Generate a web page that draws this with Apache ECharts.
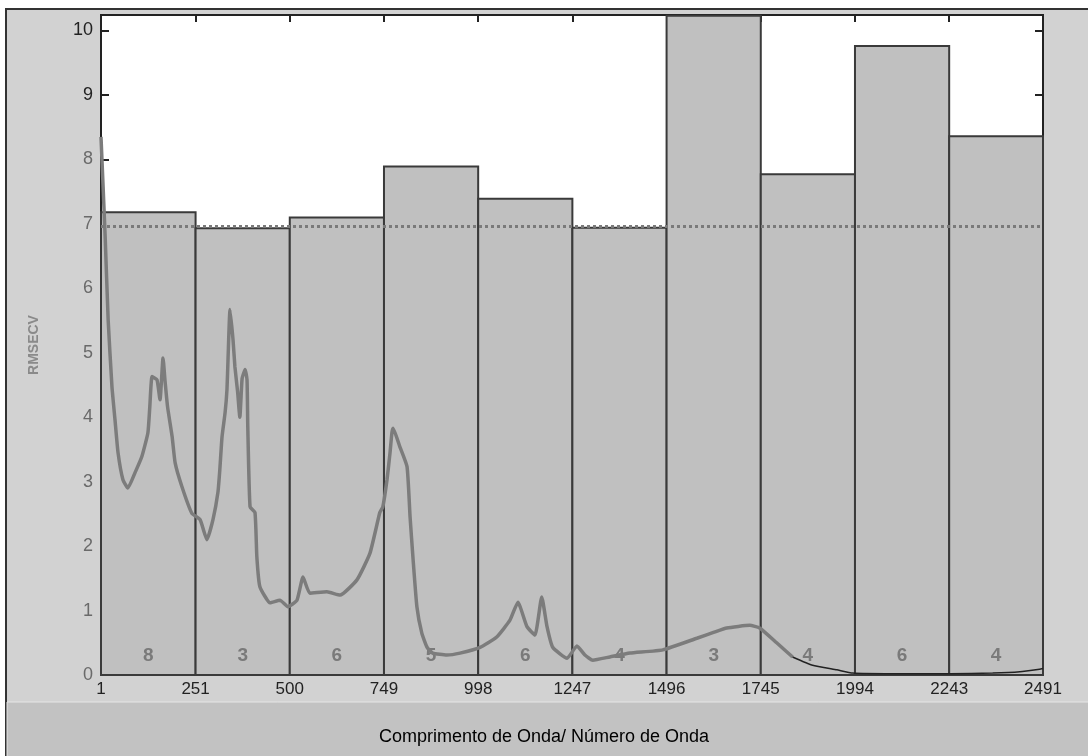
<!DOCTYPE html>
<html>
<head>
<meta charset="utf-8">
<script src="https://cdn.jsdelivr.net/npm/echarts@6/dist/echarts.min.js"></script>
<style>html,body{margin:0;padding:0;background:#fff;}#c{width:1088px;height:756px;}</style>
</head>
<body>
<div id="c"></div>
<script>
// Interval boundaries (variable ranges) and tick labels
const xTicks = [1, 251, 500, 749, 998, 1247, 1496, 1745, 1994, 2243, 2491];
// RMSECV per interval
const intervalRmsecv = [7.18, 6.93, 7.10, 7.89, 7.39, 6.94, 10.23, 7.77, 9.76, 8.36];
// Number of latent variables per interval
const intervalLV = ['8', '3', '6', '5', '6', '4', '3', '4', '6', '4'];
// Global model RMSECV (dotted line)
const globalRmsecv = 6.96;
// Mean spectrum (scaled)
const spectrumX = [1, 12, 20, 30, 38, 46, 59, 72, 91, 109, 125, 130, 136, 149, 157, 165, 170, 177, 189, 197, 215, 241, 263, 281, 297, 310, 315, 321, 329, 334, 337, 342, 350, 355, 362, 368, 374, 382, 387, 389, 395, 408, 413, 421, 448, 474, 495, 519, 535, 553, 598, 633, 678, 712, 738, 746, 757, 765, 770, 773, 791, 810, 818, 826, 836, 849, 863, 878, 915, 950, 1003, 1047, 1082, 1103, 1127, 1148, 1166, 1180, 1195, 1233, 1259, 1280, 1301, 1346, 1399, 1486, 1576, 1620, 1655, 1716, 1742, 1787, 1829, 1882, 1946, 1988, 2094, 2245, 2358, 2430, 2482, 2491];
const spectrumY = [8.35, 6.8, 5.5, 4.47, 3.96, 3.45, 3.03, 2.9, 3.14, 3.39, 3.76, 4.16, 4.63, 4.58, 4.27, 4.92, 4.58, 4.16, 3.70, 3.29, 2.92, 2.51, 2.41, 2.10, 2.41, 2.83, 3.18, 3.70, 4.07, 4.43, 4.94, 5.67, 5.2, 4.78, 4.4, 4.0, 4.6, 4.74, 4.58, 3.85, 2.61, 2.52, 1.83, 1.37, 1.12, 1.16, 1.06, 1.16, 1.52, 1.27, 1.29, 1.24, 1.48, 1.89, 2.52, 2.61, 3.03, 3.45, 3.76, 3.83, 3.54, 3.23, 2.45, 1.79, 1.06, 0.65, 0.43, 0.34, 0.31, 0.34, 0.43, 0.59, 0.85, 1.13, 0.75, 0.62, 1.21, 0.75, 0.43, 0.26, 0.45, 0.31, 0.23, 0.28, 0.34, 0.39, 0.57, 0.66, 0.73, 0.77, 0.73, 0.5, 0.28, 0.15, 0.08, 0.03, 0.02, 0.02, 0.03, 0.05, 0.09, 0.1];
const yTicks = [0, 1, 2, 3, 4, 5, 6, 7, 8, 9, 10];

const barData = intervalRmsecv.map((v, i) => [xTicks[i], xTicks[i + 1], v, intervalLV[i]]);
const splitIdx = spectrumX.indexOf(1829);
const specThick = spectrumX.slice(0, splitIdx + 1).map((x, i) => [x, spectrumY[i]]);
const specThin = spectrumX.slice(splitIdx).map((x, i) => [x, spectrumY[i + splitIdx]]);

const chart = echarts.init(document.getElementById('c'), null, {renderer: 'canvas'});
const font = '"Liberation Sans", Arial, sans-serif';
const yMax = 10.24;

chart.setOption({
  animation: false,
  backgroundColor: '#ffffff',
  graphic: [
    {type: 'rect', z: -100, silent: true, shape: {x: 6, y: 9, width: 1090, height: 760}, style: {fill: '#d2d2d2', stroke: '#333', lineWidth: 2}},
    {type: 'rect', z: -99, silent: true, shape: {x: 7, y: 702, width: 1090, height: 60}, style: {fill: '#c2c2c2', stroke: '#e6e6e6', lineWidth: 1}},
    {type: 'text', z: 100, silent: true, x: 544, y: 737, style: {text: 'Comprimento de Onda/ Número de Onda', fontSize: 18, fontFamily: font, fill: '#000', align: 'center', verticalAlign: 'middle'}}
  ],
  grid: {left: 101, right: 45, top: 15, bottom: 81, show: true, backgroundColor: '#ffffff', borderColor: '#222', borderWidth: 2},
  xAxis: [{
    type: 'value', min: 1, max: 2491, position: 'bottom',
    axisLine: {show: true, onZero: false, lineStyle: {color: '#222', width: 2}},
    axisTick: {show: true, inside: true, length: 7, customValues: xTicks, lineStyle: {color: '#222', width: 2}},
    axisLabel: {customValues: xTicks, color: '#222', fontSize: 17, fontFamily: font, margin: 6,
      formatter: function (v) { return String(v); }},
    splitLine: {show: false}
  }, {
    type: 'value', min: 1, max: 2491, position: 'top',
    axisLine: {show: true, onZero: false, lineStyle: {color: '#222', width: 2}},
    axisTick: {show: true, inside: true, length: 7, customValues: xTicks, lineStyle: {color: '#222', width: 2}},
    axisLabel: {show: false},
    splitLine: {show: false}
  }],
  yAxis: [{
    type: 'value', min: 0, max: yMax, position: 'left',
    axisLine: {show: true, onZero: false, lineStyle: {color: '#222', width: 2}},
    axisTick: {show: true, inside: true, length: 8, customValues: yTicks, lineStyle: {color: '#222', width: 2}},
    axisLabel: {customValues: yTicks, fontSize: 18, fontFamily: font, margin: 8,
      color: function (v) { return (v >= 9 || v === 0) ? '#222' : '#6a6a6a'; }},
    splitLine: {show: false},
    name: 'RMSECV', nameLocation: 'middle', nameGap: 60, nameRotate: 90,
    nameTextStyle: {color: '#8a8a8a', fontSize: 14, fontFamily: font, fontWeight: 'bold'}
  }, {
    type: 'value', min: 0, max: yMax, position: 'right',
    axisLine: {show: true, onZero: false, lineStyle: {color: '#222', width: 2}},
    axisTick: {show: true, inside: true, length: 8, customValues: yTicks, lineStyle: {color: '#222', width: 2}},
    axisLabel: {show: false},
    splitLine: {show: false}
  }],
  series: [{
    type: 'custom',
    xAxisIndex: 0, yAxisIndex: 0,
    data: barData,
    renderItem: function (params, api) {
      const p0 = api.coord([api.value(0), 0]);
      const p1 = api.coord([api.value(1), api.value(2)]);
      const mid = api.coord([(api.value(0) + api.value(1)) / 2, 0.3]);
      return {
        type: 'group',
        children: [{
          type: 'rect',
          shape: {x: p0[0], y: p1[1], width: p1[0] - p0[0], height: p0[1] - p1[1]},
          style: {fill: '#c0c0c0', stroke: '#3a3a3a', lineWidth: 2}
        }, {
          type: 'text',
          x: mid[0], y: mid[1],
          style: {text: String(barData[params.dataIndex][3]), fill: '#7a7a7a', fontSize: 19, fontWeight: 'bold', fontFamily: font, align: 'center', verticalAlign: 'middle'}
        }]
      };
    },
    markLine: {
      silent: true, symbol: 'none', label: {show: false},
      lineStyle: {color: '#7a7a7a', type: 'dotted', width: 3},
      data: [{yAxis: globalRmsecv}]
    },
    z: 2
  }, {
    type: 'line', data: specThick, showSymbol: false, smooth: 0.15,
    lineStyle: {color: '#7c7c7c', width: 3.5}, z: 3
  }, {
    type: 'line', data: specThin, showSymbol: false, smooth: 0.15,
    lineStyle: {color: '#222', width: 1.5}, z: 3
  }]
});
</script>
</body>
</html>
